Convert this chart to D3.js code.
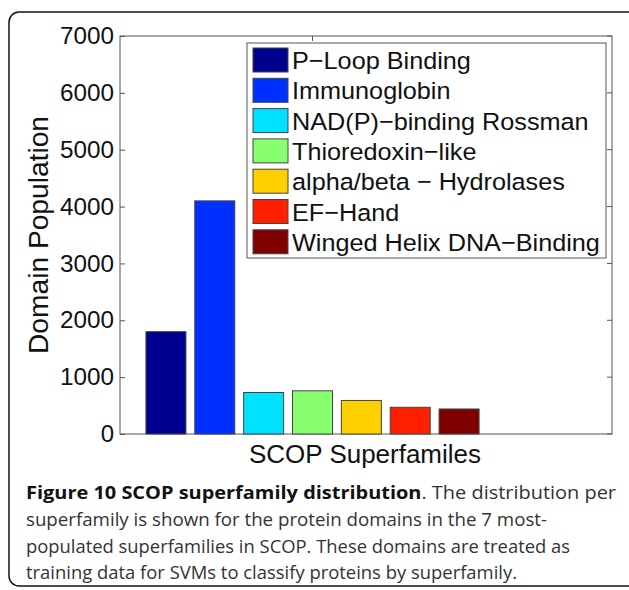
<!DOCTYPE html>
<html><head><meta charset="utf-8">
<script src="https://cdn.jsdelivr.net/npm/d3@7"></script>
<style>body{margin:0;background:#fff}</style>
</head><body>
<script>
const families = ["P\u2212Loop Binding", "Immunoglobin", "NAD(P)\u2212binding Rossman", "Thioredoxin\u2212like",
  "alpha/beta \u2212 Hydrolases", "EF\u2212Hand", "Winged Helix DNA\u2212Binding"];
const counts = [1800, 4100, 730, 760, 590, 470, 440];
const colors = ["#00008f", "#0030ff", "#00e0ff", "#88ff70", "#ffd000", "#ff2000", "#800000"];
const yTicks = [0, 1000, 2000, 3000, 4000, 5000, 6000, 7000];
const captionLines = [
  [["Figure 10 SCOP superfamily distribution", true], [". The distribution per", false]],
  [["superfamily is shown for the protein domains in the 7 most-", false]],
  [["populated superfamilies in SCOP. These domains are treated as", false]],
  [["training data for SVMs to classify proteins by superfamily.", false]]
];
const captionWidths = [590, 521, 544, 491];

const svg = d3.select("body").append("svg").attr("width", 629).attr("height", 590);
svg.append("rect").attr("x", 9).attr("y", 12).attr("width", 640).attr("height", 574)
  .attr("rx", 10).attr("fill", "none").attr("stroke", "#111").attr("stroke-width", 1.5);

const x = d3.scaleLinear().domain([0.06, 10.13]).range([120, 612]);
const y = d3.scaleLinear().domain([0, 7000]).range([434, 36]);
const bw = 40;
const font = "Liberation Sans, Arial, sans-serif";

svg.append("rect").attr("x", 120).attr("y", 36).attr("width", 492).attr("height", 398)
  .attr("fill", "none").attr("stroke", "#555").attr("stroke-width", 1);

svg.selectAll(".bar").data(counts).enter().append("rect")
  .attr("x", (d, i) => x(i + 1) - bw / 2).attr("y", d => y(d))
  .attr("width", bw).attr("height", d => y(0) - y(d))
  .attr("fill", (d, i) => colors[i]).attr("stroke", "#444").attr("stroke-width", 1);

const ya = svg.append("g").attr("transform", "translate(120,0)")
  .call(d3.axisLeft(y).tickValues(yTicks).tickSize(-5).tickPadding(6).tickFormat(d3.format("d")));
ya.select(".domain").remove();
ya.selectAll("line").attr("stroke", "#555");
ya.selectAll("text").attr("font-family", font).attr("font-size", 24).attr("fill", "#111")
  .attr("textLength", d => d === 0 ? null : 54).attr("lengthAdjust", "spacingAndGlyphs");
svg.selectAll(".rt").data(yTicks).enter().append("line")
  .attr("x1", 607).attr("x2", 612).attr("y1", d => y(d)).attr("y2", d => y(d)).attr("stroke", "#555");
svg.append("line").attr("x1", x(4)).attr("x2", x(4)).attr("y1", 36).attr("y2", 41).attr("stroke", "#555");

svg.append("text").attr("transform", "translate(48,235) rotate(-90)").attr("text-anchor", "middle")
  .attr("font-family", font).attr("font-size", 27).attr("fill", "#111")
  .attr("textLength", 238).attr("lengthAdjust", "spacingAndGlyphs").text("Domain Population");
svg.append("text").attr("x", 365).attr("y", 463).attr("text-anchor", "middle")
  .attr("font-family", font).attr("font-size", 26).attr("fill", "#111")
  .attr("textLength", 232).attr("lengthAdjust", "spacingAndGlyphs").text("SCOP Superfamiles");

// legend
const lg = svg.append("g");
lg.append("rect").attr("x", 247).attr("y", 43).attr("width", 359).attr("height", 215)
  .attr("fill", "#fff").attr("stroke", "#555");
const row = lg.selectAll(".lr").data(families).enter().append("g")
  .attr("transform", (d, i) => `translate(0,${60 + i * 30.3})`);
row.append("rect").attr("x", 253).attr("y", -12).attr("width", 35).attr("height", 24)
  .attr("fill", (d, i) => colors[i]).attr("stroke", "#444");
row.append("text").attr("x", 292).attr("y", 9).attr("font-family", font).attr("font-size", 24.5)
  .attr("fill", "#111").text(d => d)
  .each(function () {
    const w = this.getComputedTextLength();
    d3.select(this).attr("textLength", w * 1.03).attr("lengthAdjust", "spacingAndGlyphs");
  });

// caption
captionLines.forEach((ln, i) => {
  const t = svg.append("text").attr("x", 26).attr("y", 499 + i * 26.8)
    .attr("font-family", "Open Sans, sans-serif").attr("font-size", 18.5).attr("fill", "#333")
    .attr("textLength", captionWidths[i]).attr("lengthAdjust", "spacingAndGlyphs");
  ln.forEach(([s, b]) => t.append("tspan").attr("font-weight", b ? "bold" : null)
    .attr("fill", b ? "#111" : null).text(s));
});
</script>
</body></html>
